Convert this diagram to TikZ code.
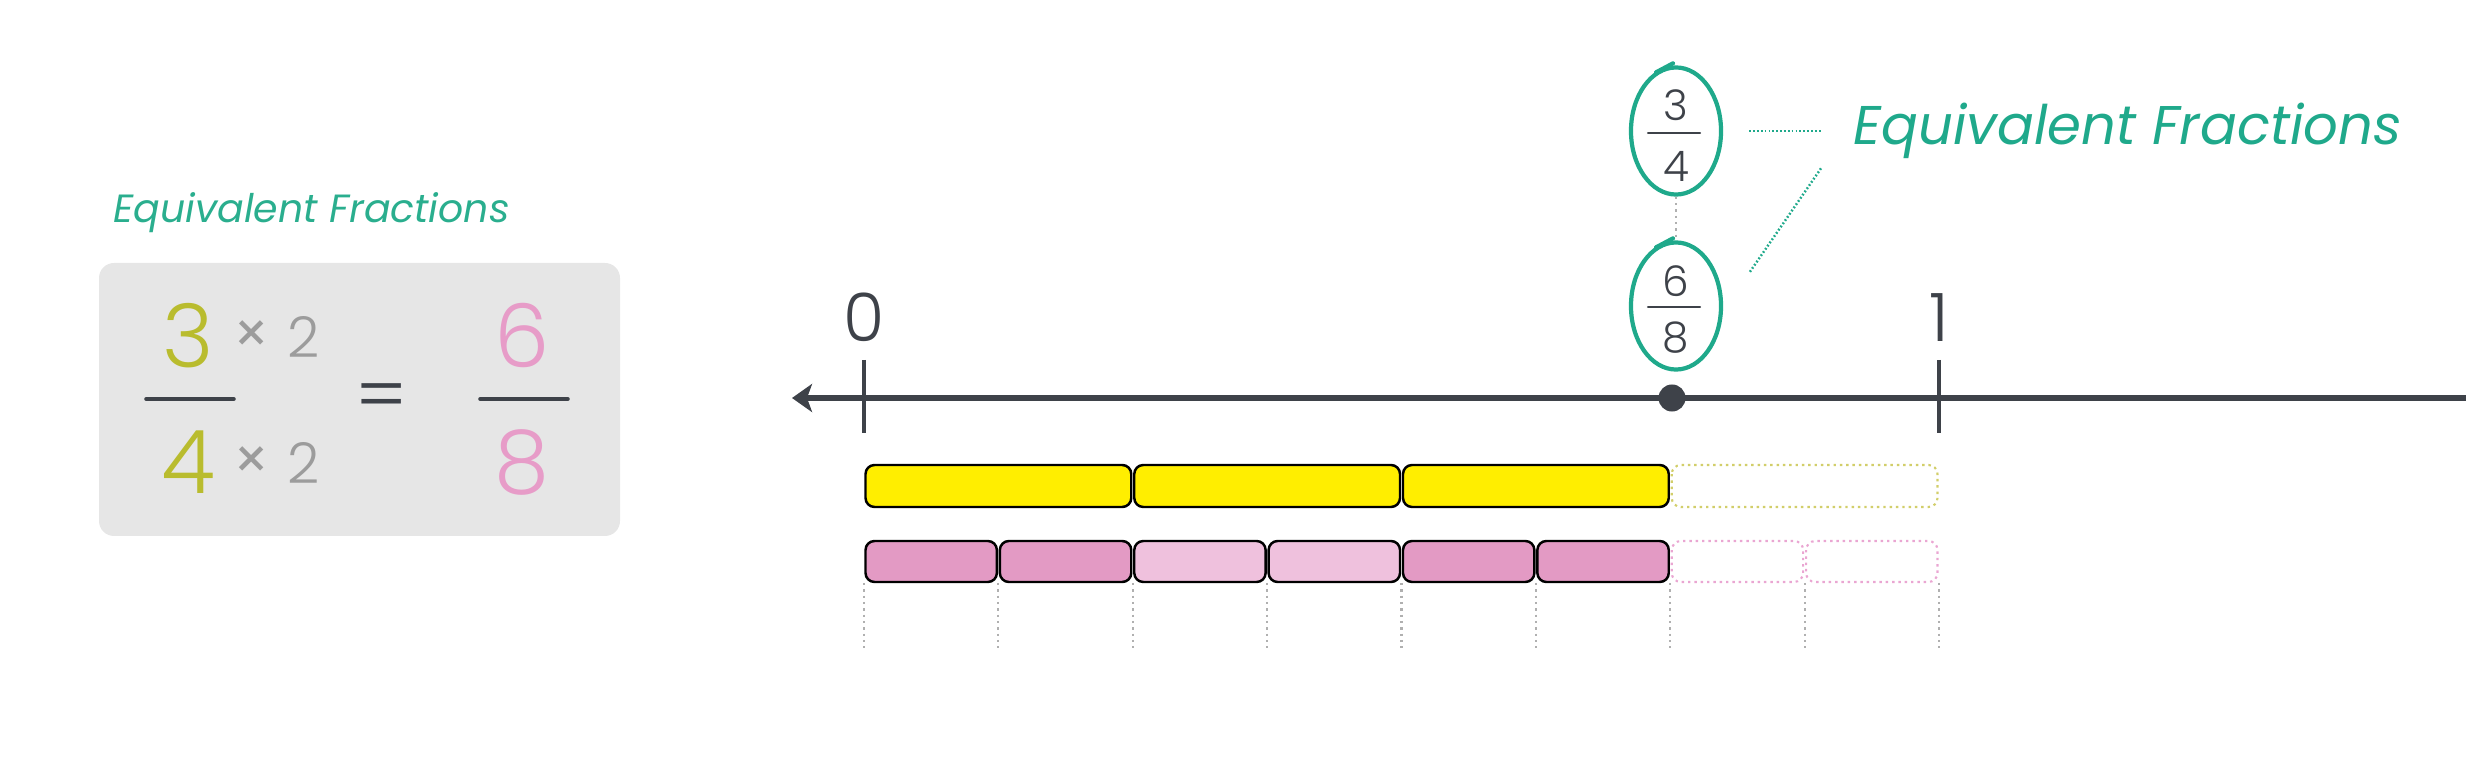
\documentclass[tikz,border=0pt]{standalone}
\usepackage{fontspec}
\setmainfont{Poppins}
\newfontfamily\lightfont{Poppins Light}
\usepackage{xcolor}
\usepackage{tikz}
\usetikzlibrary{arrows.meta, shapes.geometric}

\definecolor{lineGrey}{HTML}{3E4249}
\definecolor{eqGreen}{HTML}{1FA98B}
\definecolor{titleGreen}{HTML}{2AAE8E}
\definecolor{boxGrey}{HTML}{E6E6E6}
\definecolor{olive}{HTML}{B9BC2E}
\definecolor{pinkText}{HTML}{E79CC8}
\definecolor{timesGrey}{HTML}{9C9C9C}
\definecolor{barYellow}{HTML}{FFEE00}
\definecolor{pinkDark}{HTML}{E39AC4}
\definecolor{pinkLight}{HTML}{EFC1DD}
\definecolor{yellowDot}{HTML}{D2CE6A}
\definecolor{pinkDot}{HTML}{EAA6D2}
\definecolor{guideGrey}{HTML}{B0B0B0}

\begin{document}
\begin{tikzpicture}[x=0.01cm, y=-0.01cm,
  bigdigit/.style={font=\lightfont\fontsize{25}{25}\selectfont, inner sep=0pt},
  timestwo/.style={font=\lightfont\fontsize{16}{16}\selectfont, text=timesGrey, inner sep=0pt},
  smalldigit/.style={font=\lightfont\fontsize{12}{12}\selectfont, text=lineGrey, inner sep=0pt},
  ticklabel/.style={font=\lightfont\fontsize{19}{19}\selectfont, text=lineGrey, inner sep=0pt},
  fracbar/.style={lineGrey, line width=1pt, line cap=round},
  eqloop/.style={ellipse, draw=eqGreen, line width=1.2pt, minimum width=0.9cm, minimum height=1.27cm, inner sep=0pt},
  looptip/.style={eqGreen, line width=1.2pt, line cap=round},
  fullpart/.style={draw=black, line width=0.7pt, rounded corners=0.09cm},
  emptypart/.style={line width=0.6pt, dash pattern=on 0.7pt off 1.1pt, rounded corners=0.09cm},
  guide/.style={guideGrey, line width=0.6pt, dash pattern=on 0.7pt off 1.1pt}]
  \useasboundingbox (0,0) rectangle (2466,758);

  % Left panel
  \node[anchor=base west, inner sep=0pt, font=\itshape\fontsize{11.2}{11.2}\selectfont, text=titleGreen] (title) at (113,223) {Equivalent Fractions};
  \fill[boxGrey, rounded corners=0.15cm] (99,263) rectangle (620,536);

  \node[bigdigit, text=olive] (n3) at (188,336) {3};
  \node[bigdigit, text=olive] (n4) at (188,462) {4};
  \draw[fracbar] (146,399) -- (234,399);
  \node[timestwo, font=\fontsize{16}{16}\selectfont] (x1) at (252,337) {×};
  \node[timestwo] (t1) at (304,337) {2};
  \node[timestwo, font=\fontsize{16}{16}\selectfont] (x2) at (252,463) {×};
  \node[timestwo] (t2) at (304,463) {2};
  \node[font=\lightfont\fontsize{22}{22}\selectfont, text=lineGrey, inner sep=0pt] (eq) at (382,403) {=};
  \node[bigdigit, text=pinkText] (n6) at (522,336) {6};
  \node[bigdigit, text=pinkText] (n8) at (522,462) {8};
  \draw[fracbar] (480,399) -- (568,399);

  % Number line
  \draw[lineGrey, line width=1.6pt, -{Stealth[length=0.2cm, width=0.28cm, inset=0.05cm]}] (2466,398) -- (792,398);
  \draw[lineGrey, line width=1.3pt] (864,360) -- (864,433);
  \draw[lineGrey, line width=1.3pt] (1939,360) -- (1939,433);
  \node[ticklabel] (zero) at (864,317) {0};
  \node[ticklabel] (one) at (1939,318) {1};
  \node[circle, fill=lineGrey, minimum size=0.27cm, inner sep=0pt] (dot) at (1672,398) {};

  % Equivalent fractions callout
  \node[eqloop] (a34) at (1676,131) {};
  \draw[looptip] ([shift={(-20,7)}]a34.north) -- ([shift={(-3,-2)}]a34.north);
  \node[smalldigit] (a34num) at (1676,105) {3};
  \node[smalldigit] (a34den) at (1676,166) {4};
  \draw[fracbar, line width=0.6pt] (1648,133) -- (1700,133);
  \node[eqloop] (a68) at (1676,306) {};
  \draw[looptip] ([shift={(-20,7)}]a68.north) -- ([shift={(-3,-2)}]a68.north);
  \node[smalldigit] (a68num) at (1676,281) {6};
  \node[smalldigit] (a68den) at (1676,338) {8};
  \draw[fracbar, line width=0.6pt] (1648,307) -- (1700,307);
  \node[anchor=base west, inner sep=0pt, font=\itshape\fontsize{15.5}{15.5}\selectfont, text=eqGreen] (eqlabel) at (1853,145) {Equivalent Fractions};

  \draw[guide] (a34.south) -- (a68.north);
  \draw[eqGreen, line width=0.7pt, dash pattern=on 0.5pt off 0.6pt] ([xshift=0.26cm]a34.east) -- ([xshift=-0.32cm]a34.east -| eqlabel.west);
  \draw[eqGreen, line width=0.7pt, dash pattern=on 0.5pt off 0.6pt] ([shift={(-32,37)}]eqlabel.west) -- ([shift={(26,-33)}]a68.east);

  % Fraction bars
  \foreach \i in {0,1,2}
    \draw[fullpart, fill=barYellow] ({864+\i*268.75+1.5},465) rectangle ({864+(\i+1)*268.75-1.5},507);
  \draw[emptypart, yellowDot] ({864+3*268.75+1.5},465) rectangle ({1939-1.5},507);

  \foreach \i/\c in {0/pinkDark, 1/pinkDark, 2/pinkLight, 3/pinkLight, 4/pinkDark, 5/pinkDark}
    \draw[fullpart, fill=\c] ({864+\i*134.375+1.5},541) rectangle ({864+(\i+1)*134.375-1.5},582);
  \foreach \i in {6,7}
    \draw[emptypart, pinkDot] ({864+\i*134.375+1.5},541) rectangle ({864+(\i+1)*134.375-1.5},582);

  % Guides
  \foreach \i in {0,...,8}
    \draw[guide] ({864+\i*134.375},583) -- ({864+\i*134.375},648);
\end{tikzpicture}
\end{document}
